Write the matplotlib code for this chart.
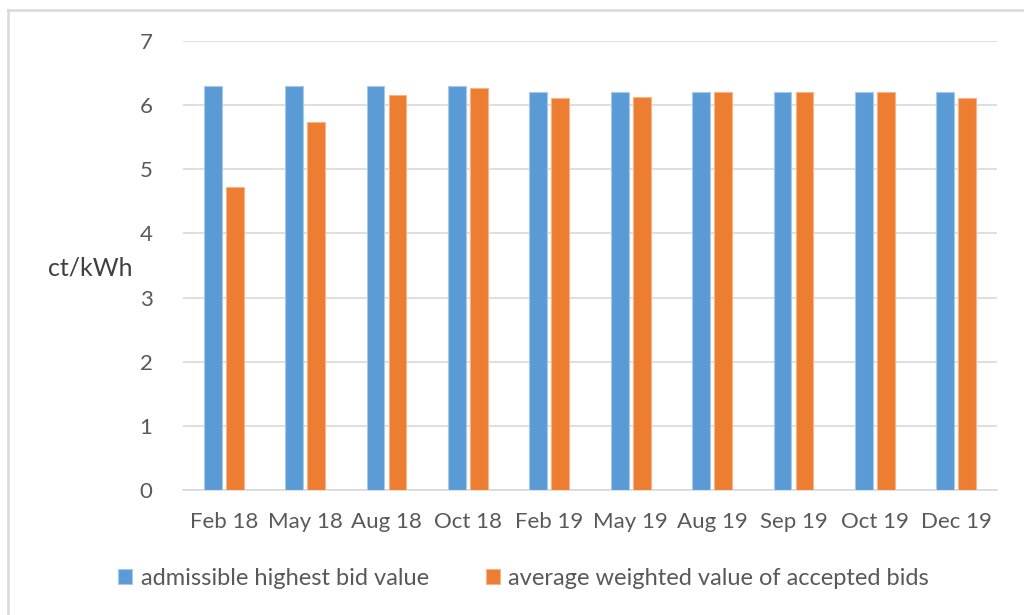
import matplotlib.pyplot as plt
from matplotlib.lines import Line2D
import numpy as np

# Daten (ct/kWh)
categories = ["Feb 18", "May 18", "Aug 18", "Oct 18", "Feb 19",
              "May 19", "Aug 19", "Sep 19", "Oct 19", "Dec 19"]
highest_bid = [6.30, 6.30, 6.30, 6.30, 6.20, 6.20, 6.20, 6.20, 6.20, 6.20]
avg_weighted = [4.73, 5.73, 6.16, 6.26, 6.11, 6.13, 6.20, 6.20, 6.20, 6.11]

plt.rcParams['font.family'] = ['Lato', 'DejaVu Sans']

W, H = 1024, 615
fig = plt.figure(figsize=(W / 100, H / 100), dpi=100)
ax = fig.add_axes([183 / W, 1 - 490 / H, 814 / W, 449 / H])

x = np.arange(len(categories))
w = 0.22
ax.bar(x - 0.135, highest_bid, w, color="#5b9bd5", edgecolor="#a9c8ea",
       linewidth=0.8, label="admissible highest bid value", zorder=3)
ax.bar(x + 0.135, avg_weighted, w, color="#ed7d31", edgecolor="#f5b48a",
       linewidth=0.8, label="average weighted value of accepted bids", zorder=3)

ax.set_xlim(-0.5, len(categories) - 0.5)
ax.set_ylim(0, 7)
ax.set_yticks(range(0, 8))
ax.set_xticks(x)
ax.set_xticklabels(categories)
ax.grid(axis="y", color="#d9d9d9", linewidth=1.2, zorder=0)
for s in ["top", "right", "left"]:
    ax.spines[s].set_visible(False)
ax.spines["bottom"].set_color("#d9d9d9")
ax.spines["bottom"].set_linewidth(1.2)
ax.tick_params(axis="both", length=0, labelsize=16, colors="#595959")
ax.tick_params(axis="x", pad=16)
ax.tick_params(axis="y", pad=22)

fig.text(48 / W, 1 - 268 / H, "ct/kWh", fontsize=18, color="#404040",
         ha="left", va="center")

ax.legend(loc="center left", bbox_to_anchor=(-0.094, -0.197), ncol=2,
          frameon=False, fontsize=17, labelcolor="#595959",
          handlelength=0.6, handleheight=0.6, handletextpad=0.35,
          columnspacing=2.4, borderpad=0)

# Rahmen (nur oben und links sichtbar)
fig.add_artist(Line2D([8 / W, 8 / W], [0, 1 - 10 / H], transform=fig.transFigure,
                      color="#d9d9d9", linewidth=1.8))
fig.add_artist(Line2D([8 / W, 1], [1 - 10 / H, 1 - 10 / H], transform=fig.transFigure,
                      color="#d9d9d9", linewidth=1.8))

fig.savefig("out.png", dpi=100)
